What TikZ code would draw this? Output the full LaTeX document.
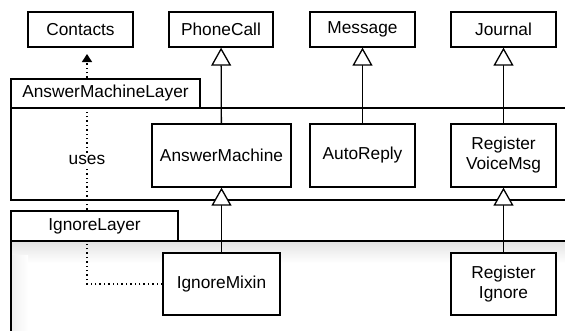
\documentclass[tikz,border=0pt]{standalone}
\usepackage{fontspec}
\setmainfont{Liberation Sans}
\usetikzlibrary{arrows.meta}
\begin{document}
\begin{tikzpicture}[x=1pt,y=-1pt,line width=1.3pt,
  lbl/.style={font=\fontsize{17.3}{20}\selectfont},
  box/.style={lbl,draw,fill=white,align=center,inner sep=0pt},
  tabbox/.style={lbl,draw,fill=white,inner sep=0pt},
  inherit/.style={-{Triangle[length=18pt,width=20pt,fill=white]}},
  usesline/.style={dash pattern=on 1.4pt off 3pt,-{Triangle[length=8pt,width=10pt]}}
]
\useasboundingbox (0,0) rectangle (565,330);
\clip (0,0) rectangle (565,330);
% layer bodies
\shade[top color=black!11,bottom color=white] (11,241) rectangle (600,263);
\shade[left color=black!6,right color=white] (11,255) rectangle (28,340);
\draw (11,108) rectangle (600,200);
\draw (11,241) rectangle (600,400);
% boxes
\node[box,minimum width=105pt,minimum height=35pt] (contacts) at (80.5,29.5) {Contacts};
\node[box,minimum width=104pt,minimum height=35pt] (phone) at (221,29.5) {PhoneCall};
\node[box,minimum width=105pt,minimum height=35pt] (msg) at (362.5,29.5) {Message};
\node[box,minimum width=105pt,minimum height=35pt] (journal) at (503.5,29.5) {Journal};
\node[box,minimum width=139pt,minimum height=63pt] (am) at (221.5,155.5) {AnswerMachine};
\node[box,minimum width=105pt,minimum height=63pt] (auto) at (362.5,155.5) {AutoReply};
\node[box,minimum width=105pt,minimum height=63pt] (rvm) at (503.5,155.5) {Register\\VoiceMsg};
\node[box,minimum width=117pt,minimum height=62pt] (im) at (221.5,284) {IgnoreMixin};
\node[box,minimum width=105pt,minimum height=62pt] (ri) at (503.5,284) {Register\\Ignore};
% uses connector
\coordinate (ctip) at (87,54);
\draw[usesline] (im.west) -| (ctip);
\node[lbl,fill=white,inner sep=1pt] (uses) at (87,160) {uses};
% tabs
\node[tabbox,minimum width=189pt,minimum height=29pt] (amltab) at (105.5,93.5) {AnswerMachineLayer};
\node[tabbox,minimum width=167pt,minimum height=30pt] (iltab) at (94.5,226) {IgnoreLayer};
% inheritance
\draw[inherit] (am) -- (phone);
\draw[inherit] (auto) -- (msg);
\draw[inherit] (rvm) -- (journal);
\draw[inherit] (im) -- (am);
\draw[inherit] (ri) -- (rvm);
\end{tikzpicture}
\end{document}
